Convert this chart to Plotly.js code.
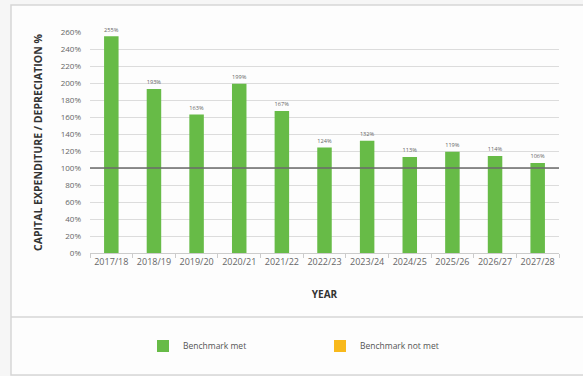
<!DOCTYPE html>
<html><head><meta charset="utf-8">
<script src="https://cdn.plot.ly/plotly-3.0.1.min.js"></script>
<style>html,body{margin:0;padding:0;background:#f6f6f6}#chart{width:583px;height:376px}</style>
</head><body><div id="chart"></div>
<script>
const years = ["2017/18","2018/19","2019/20","2020/21","2021/22","2022/23","2023/24","2024/25","2025/26","2026/27","2027/28"];
const ratioPct = [255,193,163,199,167,124,132,113,119,114,106];
const benchmarkPct = 100;
const yTicks = [0,20,40,60,80,100,120,140,160,180,200,220,240,260];
const labels = ratioPct.map(v => v + "%");

const green = "#67bb47", orange = "#f8b91c";
const font = "'Open Sans', 'Noto Sans', sans-serif";

const traces = [
  {type:"bar", x:years, y:ratioPct, name:"Benchmark met", marker:{color:green},
   text:labels, textposition:"outside", cliponaxis:false,
   textfont:{size:7, color:"#666", family:font}, width:0.34, hoverinfo:"x+y"},
  {type:"bar", x:[years[0]], y:[null], name:"Benchmark not met", marker:{color:orange}, showlegend:true}
];

const L=90, T=32, W=469, H=221;
const px = x => (x-L)/W, py = y => (T+H-y)/H;

const layout = {
  width:583, height:376,
  margin:{l:L, r:583-L-W, t:T, b:376-T-H},
  paper_bgcolor:"#f6f6f6", plot_bgcolor:"rgba(0,0,0,0)",
  font:{family:font, color:"#555"},
  barmode:"overlay", bargap:0.66, showlegend:true,
  xaxis:{type:"category", tickfont:{size:9, color:"#666"}, tickangle:0, ticks:"outside", tickson:"boundaries",
    ticklen:4, tickcolor:"#ccc", showline:true, linecolor:"#ccc", showgrid:false,
    title:{text:"<b>YEAR</b>", font:{size:10, color:"#333"}, standoff:24}},
  yaxis:{range:[0,260], tickvals:yTicks, ticktext:yTicks.map(v=>v+"%"), tickfont:{size:8, color:"#666"},
    gridcolor:"#dcdcdc", gridwidth:1, zeroline:false, ticklabelstandoff:8,
    title:{text:"<b>CAPITAL EXPENDITURE / DEPRECIATION %</b>", font:{size:10.5, color:"#333"}, standoff:15}},
  legend:{orientation:"h", x:px(143), y:py(346), yanchor:"middle", xanchor:"left",
    font:{size:8.5, color:"#555"}, entrywidth:132, itemwidth:30, bgcolor:"rgba(0,0,0,0)"},
  shapes:[
    {type:"rect", xref:"paper", yref:"paper", x0:px(11), x1:px(600), y0:py(375), y1:py(5),
     fillcolor:"#fdfdfd", line:{color:"#d6d6d6", width:1.5}, layer:"below"},
    {type:"line", xref:"paper", yref:"paper", x0:px(11), x1:px(600), y0:py(317), y1:py(317),
     line:{color:"#d6d6d6", width:1.5}, layer:"below"},
    {type:"line", xref:"paper", yref:"y", x0:0, x1:1, y0:benchmarkPct, y1:benchmarkPct,
     line:{color:"#6a6a6a", width:1.5}, layer:"above"}
  ]
};
Plotly.newPlot("chart", traces, layout, {displayModeBar:false, staticPlot:true});
</script></body></html>
